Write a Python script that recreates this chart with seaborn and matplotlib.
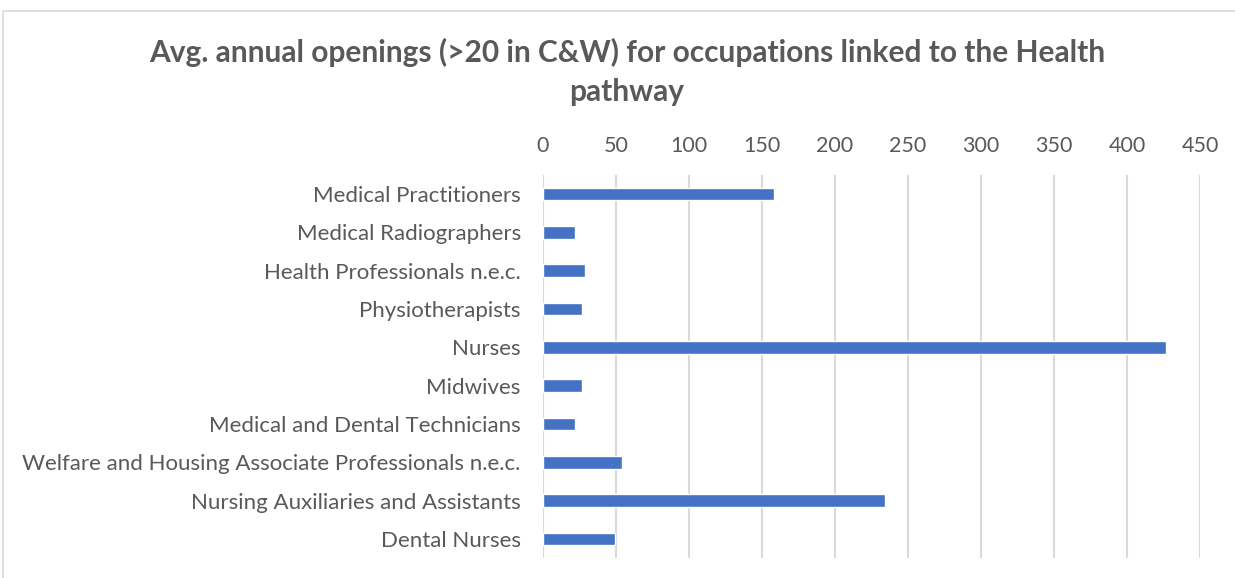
import pandas as pd
import numpy as np
import seaborn as sns
import matplotlib.pyplot as plt
from matplotlib.patches import Rectangle

occupations = ['Medical Practitioners', 'Medical Radiographers', 'Health Professionals n.e.c.',
               'Physiotherapists', 'Nurses', 'Midwives', 'Medical and Dental Technicians',
               'Welfare and Housing Associate Professionals n.e.c.',
               'Nursing Auxiliaries and Assistants', 'Dental Nurses']
openings = [158, 22, 29, 27, 427, 27, 22, 54, 234, 49]

df = pd.DataFrame({'Occupation': occupations, 'Openings': openings})

sns.set_style('white')
plt.rcParams['font.family'] = ['Lato', 'DejaVu Sans']

fig = plt.figure(figsize=(12.35, 5.78), dpi=100)
ax = fig.add_axes([543 / 1235, 1 - 558 / 578, 657 / 1235, 383 / 578])

sns.barplot(data=df, x='Openings', y='Occupation', orient='h', color='#4472C4',
            width=0.33, saturation=1, ax=ax)

ax.set_xlim(0, 450)
ax.set_xticks(np.arange(0, 451, 50))
ax.xaxis.tick_top()
ax.tick_params(axis='x', length=0, pad=14, labelsize=15.5, labelcolor='#595959')
ax.tick_params(axis='y', length=0, pad=16, labelsize=16, labelcolor='#595959')
ax.grid(axis='x', color='#d9d9d9', linewidth=1.5)
ax.set_axisbelow(True)
ax.set_xlabel('')
ax.set_ylabel('')
for s in ax.spines.values():
    s.set_visible(False)

fig.text(627 / 1235, 1 - 52 / 578, 'Avg. annual openings (>20 in C&W) for occupations linked to the Health',
         ha='center', va='center', fontsize=21.5, fontweight='bold', color='#595959')
fig.text(627 / 1235, 1 - 92 / 578, 'pathway',
         ha='center', va='center', fontsize=21.5, fontweight='bold', color='#595959')

# chart frame
fig.patches.append(Rectangle((3 / 1235, -0.05), 1.2, 1 - 11 / 578 + 0.05, transform=fig.transFigure,
                             fill=False, edgecolor='#d9d9d9', linewidth=1.2))

fig.savefig('out.png', dpi=100)
